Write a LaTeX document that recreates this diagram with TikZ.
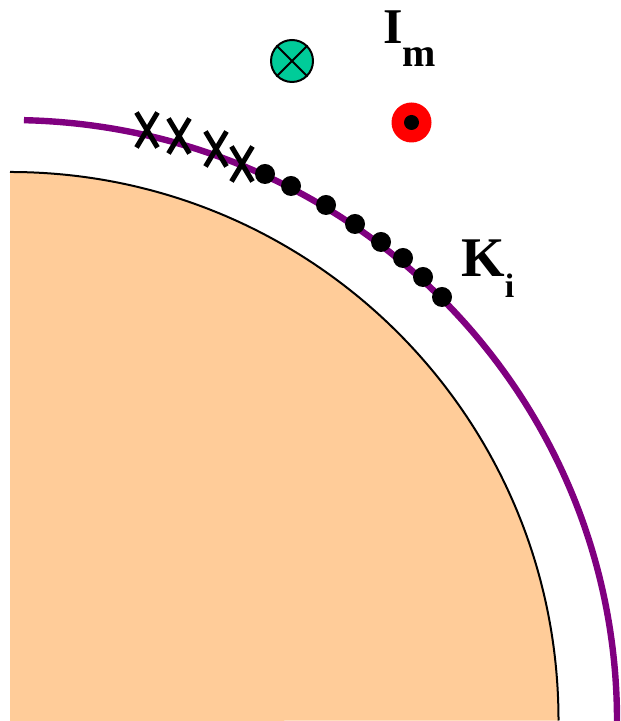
\documentclass[tikz,border=0pt]{standalone}
\usepackage{fontspec}
\setmainfont{Liberation Serif}
\usetikzlibrary{shapes.misc}
\definecolor{peach}{HTML}{FFCC99}
\definecolor{jade}{HTML}{00CC99}
\definecolor{plum}{HTML}{800080}

\begin{document}
\begin{tikzpicture}[x=0.5pt,y=0.5pt,
  site/.style={circle,fill=black,inner sep=0pt,minimum size=10pt},
  hole/.style={cross out,draw=black,line width=2.5pt,inner sep=0pt,minimum width=8pt,minimum height=15pt},
  tag/.style={anchor=base west,inner sep=0pt,font=\bfseries}
]
\useasboundingbox (0,0) rectangle (620,721);
% body
\fill[peach] (10,0) -- (10,549) arc[start angle=90,end angle=0,radius=548.5] -- cycle;
\draw[line width=1pt] (10,549) arc[start angle=90,end angle=0,radius=548.5];
% surface
\draw[plum,line width=3.2pt] (10,0) ++(88.68:607 and 601) arc[start angle=88.68,end angle=0,x radius=607,y radius=601];
\foreach \x/\y [count=\n] in {147/591,179/585,216/572,242/557}
  \node[hole] (h\n) at (\x,\y) {};
\foreach \x/\y [count=\n] in {265/547,291/535,326/516,355/497,381/479,403/463,423/444,442/424}
  \node[site] (s\n) at (\x,\y) {};
% currents
\node[circle,draw,line width=1pt,fill=jade,inner sep=0pt,minimum size=21pt] (into) at (292,660) {};
\draw[line width=1pt] (into.45) -- (into.225) (into.135) -- (into.-45);
\node[circle,fill=red,inner sep=0pt,minimum size=20pt] (outof) at (411.5,598.5) {};
\node[circle,fill=black,inner sep=0pt,minimum size=7.5pt] (outdot) at (outof) {};
\node[tag,font=\bfseries\fontsize{25}{25}\selectfont] (Im) at (383,677) {I\raisebox{-11.5pt}{\fontsize{20}{20}\selectfont m}};
\node[tag,font=\bfseries\fontsize{28}{28}\selectfont] (Ki) at (461,444) {K\raisebox{-10.5pt}{\fontsize{17}{17}\selectfont i}};
\end{tikzpicture}
\end{document}
